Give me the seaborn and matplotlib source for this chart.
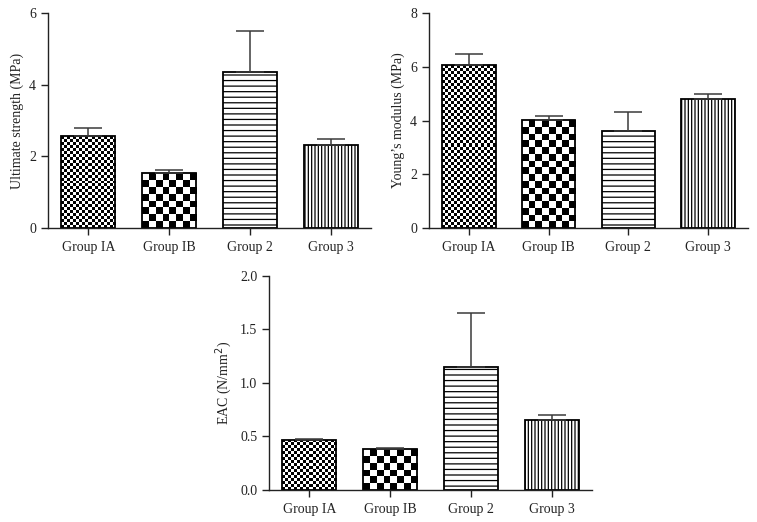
import numpy as np
import pandas as pd
import matplotlib
matplotlib.use("Agg")
import matplotlib.pyplot as plt
import seaborn as sns

groups = ["Group IA", "Group IB", "Group 2", "Group 3"]

strength_mean = [2.56, 1.53, 4.35, 2.32]
strength_err = [0.23, 0.10, 1.16, 0.16]

modulus_mean = [6.07, 4.02, 3.61, 4.79]
modulus_err = [0.40, 0.13, 0.72, 0.19]

eac_mean = [0.47, 0.38, 1.15, 0.65]
eac_err = [0.01, 0.01, 0.50, 0.05]

sns.set_theme(style="ticks")
plt.rcParams["font.family"] = ["Liberation Serif", "DejaVu Serif"]
plt.rcParams["hatch.linewidth"] = 0.9

W, H = 757, 522
fig = plt.figure(figsize=(W / 100, H / 100), dpi=100)

TEXT = "#222222"
HATCH = "#444444"


def checker_fill(ax, patch, cell_px):
    x0, y0 = patch.get_x(), patch.get_y()
    w, h = patch.get_width(), patch.get_height()
    p0 = ax.transData.transform((x0, y0))
    p1 = ax.transData.transform((x0 + w, y0 + h))
    nx = max(1, int(round(abs(p1[0] - p0[0]) / cell_px)))
    ny = max(1, int(round(abs(p1[1] - p0[1]) / cell_px)))
    arr = np.add.outer(np.arange(ny), np.arange(nx)) % 2
    im = ax.imshow(arr, cmap="gray", vmin=0, vmax=1, extent=(x0, x0 + w, y0, y0 + h),
                   aspect="auto", interpolation="nearest", origin="lower",
                   zorder=patch.get_zorder() - 0.1)
    im.set_clip_path(patch)
    patch.set_facecolor("none")


def set_hatch_grey(patch, hatch):
    patch.set_hatch(hatch)
    try:
        patch.set_hatchcolor(HATCH)
    except AttributeError:
        pass


def panel(rect, means, errs, ylim, yticks, yticklabels, ylabel):
    ax = fig.add_axes(rect)
    df = pd.DataFrame({"group": groups, "value": means})
    sns.barplot(data=df, x="group", y="value", ax=ax, color="white",
                edgecolor="black", linewidth=1.3, width=0.67, saturation=1,
                errorbar=None, zorder=2)
    ax.set_xlim(-0.5, 3.5)
    ax.set_ylim(*ylim)
    ax.set_yticks(yticks)
    ax.set_yticklabels(yticklabels)
    patches = list(ax.patches)
    set_hatch_grey(patches[2], "---")
    set_hatch_grey(patches[3], "|||||")
    for p in patches[2:]:
        p.set_facecolor("white")
    checker_fill(ax, patches[0], 3.0)
    checker_fill(ax, patches[1], 6.7)
    ax.errorbar(np.arange(len(groups)), means, yerr=[np.zeros(len(errs)), errs],
                fmt="none", ecolor="#3a3a3a", elinewidth=1.1, capsize=10,
                capthick=1.1, zorder=3)
    ax.set_xlim(-0.5, 3.5)
    ax.set_ylim(*ylim)
    sns.despine(ax=ax)
    for s in ["left", "bottom"]:
        ax.spines[s].set_linewidth(1.0)
        ax.spines[s].set_color("#222222")
    ax.tick_params(axis="both", direction="out", length=5, width=1.0,
                   colors="#222222", labelsize=10, labelcolor=TEXT)
    ax.tick_params(axis="x", pad=4.5)
    ax.set_xlabel("")
    ax.set_ylabel(ylabel, fontsize=10, color=TEXT)
    return ax


panel([48 / W, 1 - 228 / H, 323 / W, 215 / H], strength_mean, strength_err,
      (0, 6), [0, 2, 4, 6], ["0", "2", "4", "6"], "Ultimate strength (MPa)")
panel([429 / W, 1 - 227.7 / H, 319 / W, 214.4 / H], modulus_mean, modulus_err,
      (0, 8), [0, 2, 4, 6, 8], ["0", "2", "4", "6", "8"], "Young\u2019s modulus (MPa)")
panel([269 / W, 1 - 490 / H, 323 / W, 214.3 / H], eac_mean, eac_err,
      (0, 2.0), [0, 0.5, 1.0, 1.5, 2.0], ["0.0", "0.5", "1.0", "1.5", "2.0"],
      "EAC (N/mm$^{2}$)")

fig.savefig("out.png", dpi=100)
